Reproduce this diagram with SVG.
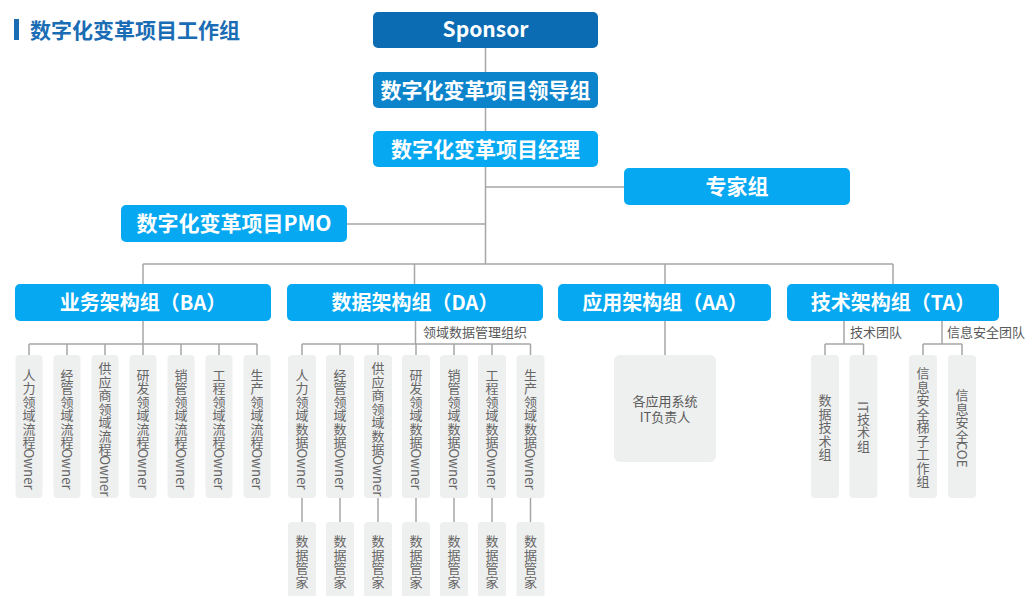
<svg xmlns="http://www.w3.org/2000/svg" width="1027" height="596" viewBox="0 0 1027 596">
<style>
.ln{stroke:#a6a6a6;stroke-width:1.5;fill:none}
.hd{font-family:"Noto Sans CJK SC","Microsoft YaHei",sans-serif;font-weight:bold;fill:#fff;text-anchor:middle}
.lb{font-family:"Noto Sans CJK SC",sans-serif;font-size:13px;fill:#595959}
.gb{fill:#eeefef}
.vc{font-family:"Noto Sans CJK SC",sans-serif;font-size:13px;fill:#666;text-anchor:middle;dominant-baseline:central}
.vo{font-family:"Noto Sans CJK SC",sans-serif;font-size:13.3px;fill:#666;dominant-baseline:central}
.lt{fill:#06a8f2}
</style>
<rect width="1027" height="596" fill="#fff"/>
<g id="title">
<rect x="14" y="19" width="5" height="21" fill="#1a6db4"/>
<text x="30" y="37.5" font-family="Noto Sans CJK SC,sans-serif" font-weight="bold" font-size="21" fill="#1a6db4">数字化变革项目工作组</text>
</g>
<g id="connectors">
<path class="ln" d="M485.5 48V72M485.5 108V131M485.5 167V264M485.5 187H624M347 224H485.5M143 264H893M143 264V285M414.5 264V285M665 264V285M893 264V285"/>
<path class="ln" d="M143 321V344M29 344H257M29 344V355M67 344V355M105 344V355M143 344V355M181 344V355M219 344V355M257 344V355"/>
<path class="ln" d="M415.5 321V344M302 344H530.5M302 344V355M340 344V355M378 344V355M416 344V355M454 344V355M492 344V355M530.5 344V355"/>
<path class="ln" d="M302 498V522M340 498V522M378 498V522M416 498V522M454 498V522M492 498V522M530.5 498V522"/>
<path class="ln" d="M665 321V355"/>
<path class="ln" d="M844 321V344M825 344H863.5M825 344V355M863.5 344V355M942 321V344M923 344H962M923 344V355M962 344V355"/>
</g>
<g id="sponsor"><rect x="373" y="12" width="225" height="36" rx="5" fill="#0b6cb4"/><text class="hd" x="485.5" y="37" font-size="21">Sponsor</text></g>
<g id="leader"><rect x="373" y="72" width="225" height="36" rx="5" fill="#0c84cc"/><text class="hd" x="485.5" y="97.5" font-size="21">数字化变革项目领导组</text></g>
<g id="manager"><rect x="373" y="131" width="225" height="36" rx="5" class="lt"/><text class="hd" x="485.5" y="156.5" font-size="21">数字化变革项目经理</text></g>
<g id="expert"><rect x="624" y="168" width="226" height="37" rx="5" class="lt"/><text class="hd" x="737" y="193.5" font-size="21">专家组</text></g>
<g id="pmo"><rect x="121" y="205" width="226" height="37" rx="5" class="lt"/><text class="hd" x="234" y="230.5" font-size="21">数字化变革项目PMO</text></g>
<g id="ba"><rect x="15" y="284" width="256" height="37" rx="5" class="lt"/><text class="hd" x="143" y="309.5" font-size="20">业务架构组（BA）</text></g>
<g id="da"><rect x="287" y="284" width="256" height="37" rx="5" class="lt"/><text class="hd" x="415" y="309.5" font-size="20">数据架构组（DA）</text></g>
<g id="aa"><rect x="558" y="284" width="213" height="37" rx="5" class="lt"/><text class="hd" x="665" y="309.5" font-size="20">应用架构组（AA）</text></g>
<g id="ta"><rect x="787" y="284" width="212" height="37" rx="5" class="lt"/><text class="hd" x="893" y="309.5" font-size="20">技术架构组（TA）</text></g>
<text class="lb" x="423" y="337">领域数据管理组织</text>
<text class="lb" x="850" y="337">技术团队</text>
<text class="lb" x="947" y="337">信息安全团队</text>
<g id="ba-children">
<g id="ba1"><rect class="gb" x="15.5" y="355" width="27" height="143" rx="4"/><text class="vc" x="29 29 29 29 29 29" y="374.3 387.8 401.3 414.8 428.3 441.8">人力领域流程</text><text class="vo" transform="translate(29 448.5) rotate(90)">Owner</text></g>
<g id="ba2"><rect class="gb" x="53.5" y="355" width="27" height="143" rx="4"/><text class="vc" x="67 67 67 67 67 67" y="374.3 387.8 401.3 414.8 428.3 441.8">经管领域流程</text><text class="vo" transform="translate(67 448.5) rotate(90)">Owner</text></g>
<g id="ba3"><rect class="gb" x="91.5" y="355" width="27" height="143" rx="4"/><text class="vc" x="105 105 105 105 105 105 105" y="367.5 381 394.5 408 421.5 435 448.5">供应商领域流程</text><text class="vo" transform="translate(105 455.3) rotate(90)">Owner</text></g>
<g id="ba4"><rect class="gb" x="129.5" y="355" width="27" height="143" rx="4"/><text class="vc" x="143 143 143 143 143 143" y="374.3 387.8 401.3 414.8 428.3 441.8">研发领域流程</text><text class="vo" transform="translate(143 448.5) rotate(90)">Owner</text></g>
<g id="ba5"><rect class="gb" x="167.5" y="355" width="27" height="143" rx="4"/><text class="vc" x="181 181 181 181 181 181" y="374.3 387.8 401.3 414.8 428.3 441.8">销管领域流程</text><text class="vo" transform="translate(181 448.5) rotate(90)">Owner</text></g>
<g id="ba6"><rect class="gb" x="205.5" y="355" width="27" height="143" rx="4"/><text class="vc" x="219 219 219 219 219 219" y="374.3 387.8 401.3 414.8 428.3 441.8">工程领域流程</text><text class="vo" transform="translate(219 448.5) rotate(90)">Owner</text></g>
<g id="ba7"><rect class="gb" x="243.5" y="355" width="27" height="143" rx="4"/><text class="vc" x="257 257 257 257 257 257" y="374.3 387.8 401.3 414.8 428.3 441.8">生产领域流程</text><text class="vo" transform="translate(257 448.5) rotate(90)">Owner</text></g>
</g>
<g id="da-children">
<g id="da1"><rect class="gb" x="288" y="355" width="28" height="143" rx="4"/><text class="vc" x="302 302 302 302 302 302" y="374.3 387.8 401.3 414.8 428.3 441.8">人力领域数据</text><text class="vo" transform="translate(302 448.5) rotate(90)">Owner</text></g>
<g id="da2"><rect class="gb" x="326" y="355" width="28" height="143" rx="4"/><text class="vc" x="340 340 340 340 340 340" y="374.3 387.8 401.3 414.8 428.3 441.8">经管领域数据</text><text class="vo" transform="translate(340 448.5) rotate(90)">Owner</text></g>
<g id="da3"><rect class="gb" x="364" y="355" width="28" height="143" rx="4"/><text class="vc" x="378 378 378 378 378 378 378" y="367.5 381 394.5 408 421.5 435 448.5">供应商领域数据</text><text class="vo" transform="translate(378 455.3) rotate(90)">Owner</text></g>
<g id="da4"><rect class="gb" x="402" y="355" width="28" height="143" rx="4"/><text class="vc" x="416 416 416 416 416 416" y="374.3 387.8 401.3 414.8 428.3 441.8">研发领域数据</text><text class="vo" transform="translate(416 448.5) rotate(90)">Owner</text></g>
<g id="da5"><rect class="gb" x="440" y="355" width="28" height="143" rx="4"/><text class="vc" x="454 454 454 454 454 454" y="374.3 387.8 401.3 414.8 428.3 441.8">销管领域数据</text><text class="vo" transform="translate(454 448.5) rotate(90)">Owner</text></g>
<g id="da6"><rect class="gb" x="478" y="355" width="28" height="143" rx="4"/><text class="vc" x="492 492 492 492 492 492" y="374.3 387.8 401.3 414.8 428.3 441.8">工程领域数据</text><text class="vo" transform="translate(492 448.5) rotate(90)">Owner</text></g>
<g id="da7"><rect class="gb" x="516.5" y="355" width="28" height="143" rx="4"/><text class="vc" x="530.5 530.5 530.5 530.5 530.5 530.5" y="374.3 387.8 401.3 414.8 428.3 441.8">生产领域数据</text><text class="vo" transform="translate(530.5 448.5) rotate(90)">Owner</text></g>
</g>
<g id="stewards">
<g id="st1"><rect class="gb" x="288" y="522" width="28" height="80" rx="4"/><text class="vc" x="302 302 302 302" y="540.8 554.3 567.8 581.3">数据管家</text></g>
<g id="st2"><rect class="gb" x="326" y="522" width="28" height="80" rx="4"/><text class="vc" x="340 340 340 340" y="540.8 554.3 567.8 581.3">数据管家</text></g>
<g id="st3"><rect class="gb" x="364" y="522" width="28" height="80" rx="4"/><text class="vc" x="378 378 378 378" y="540.8 554.3 567.8 581.3">数据管家</text></g>
<g id="st4"><rect class="gb" x="402" y="522" width="28" height="80" rx="4"/><text class="vc" x="416 416 416 416" y="540.8 554.3 567.8 581.3">数据管家</text></g>
<g id="st5"><rect class="gb" x="440" y="522" width="28" height="80" rx="4"/><text class="vc" x="454 454 454 454" y="540.8 554.3 567.8 581.3">数据管家</text></g>
<g id="st6"><rect class="gb" x="478" y="522" width="28" height="80" rx="4"/><text class="vc" x="492 492 492 492" y="540.8 554.3 567.8 581.3">数据管家</text></g>
<g id="st7"><rect class="gb" x="516.5" y="522" width="28" height="80" rx="4"/><text class="vc" x="530.5 530.5 530.5 530.5" y="540.8 554.3 567.8 581.3">数据管家</text></g>
</g>
<g id="aa-child"><rect class="gb" x="614" y="355" width="102" height="107" rx="6"/>
<text class="lb" text-anchor="middle" font-size="12.5"><tspan x="665" y="405.5">各应用系统</tspan><tspan x="665" y="422">IT负责人</tspan></text></g>
<g id="ta-children">
<g id="ta1"><rect class="gb" x="811" y="355" width="28" height="143" rx="4"/><text class="vc" x="825 825 825 825 825" y="399.5 413 426.5 440 453.5">数据技术组</text></g>
<g id="ta2"><rect class="gb" x="849.5" y="355" width="28" height="143" rx="4"/><text class="vo" transform="translate(863.5 401.3) rotate(90)">IT</text><text class="vc" x="863.5 863.5 863.5" y="418 431.5 445">技术组</text></g>
<g id="ta3"><rect class="gb" x="909" y="355" width="28" height="143" rx="4"/><text class="vc" x="923 923 923 923 923 923 923 923 923" y="372.5 386 399.5 413 426.5 440 453.5 467 480.5">信息安全梯子工作组</text></g>
<g id="ta4"><rect class="gb" x="948" y="355" width="28" height="143" rx="4"/><text class="vc" x="962 962 962 962" y="394.6 408.1 421.6 435.1">信息安全</text><text class="vo" transform="translate(962 441.8) rotate(90)">COE</text></g>
</g>
</svg>
